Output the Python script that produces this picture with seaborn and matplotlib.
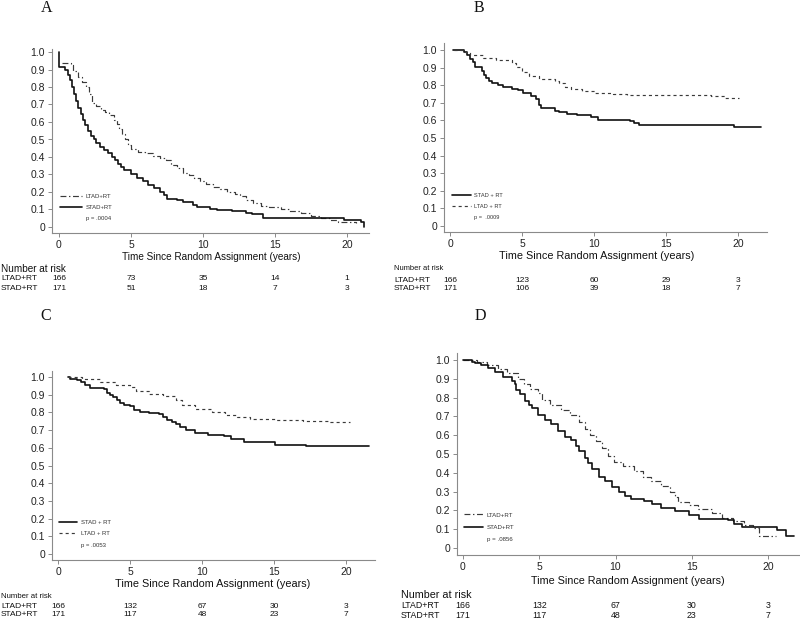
import matplotlib
matplotlib.use("Agg")
import matplotlib.pyplot as plt
import seaborn as sns
from matplotlib.lines import Line2D
from matplotlib.transforms import blended_transform_factory

# ---------------- data ----------------
x_ticks = [0, 5, 10, 15, 20]
y_ticks = [0, 0.1, 0.2, 0.3, 0.4, 0.5, 0.6, 0.7, 0.8, 0.9, 1.0]
y_tick_labels = ["0", "0.1", "0.2", "0.3", "0.4", "0.5", "0.6", "0.7", "0.8", "0.9", "1.0"]
risk_times = [0, 5, 10, 15, 20]

# Panel A
A_stad_t = [0, 0.03, 0.45, 0.6, 0.75, 0.9, 1.05, 1.2, 1.35, 1.5, 1.65, 1.8, 2.0, 2.2, 2.4, 2.6, 2.85,
            3.1, 3.4, 3.7, 3.9, 4.1, 4.3, 4.5, 5.0, 5.4, 5.8, 6.2, 6.6, 7.0, 7.3, 7.5, 8.2, 8.6, 9.3,
            9.6, 10.5, 11.0, 12.0, 13.0, 13.4, 14.2, 19.8, 21.0, 21.2]
A_stad_s = [1.0, 0.912, 0.90, 0.87, 0.84, 0.80, 0.76, 0.72, 0.68, 0.645, 0.61, 0.58, 0.55, 0.52, 0.50, 0.48,
            0.455, 0.44, 0.42, 0.40, 0.38, 0.36, 0.34, 0.325, 0.305, 0.28, 0.26, 0.24, 0.225, 0.20, 0.18,
            0.162, 0.152, 0.143, 0.125, 0.112, 0.105, 0.095, 0.09, 0.082, 0.075, 0.053, 0.042, 0.029, 0.0]
A_ltad_t = [0.2, 0.8, 1.0, 1.3, 1.6, 1.9, 2.1, 2.3, 2.6, 2.9, 3.2, 3.5, 3.8, 4.0, 4.2, 4.4, 4.6, 4.8, 5.0,
            5.5, 6.0, 6.5, 7.0, 7.4, 7.8, 8.2, 8.6, 9.0, 9.4, 9.8, 10.2, 10.7, 11.2, 11.7, 12.2, 12.6,
            13.0, 13.5, 14.0, 14.6, 15.4, 16.0, 16.8, 17.5, 18.2, 18.8, 19.4, 20.6]
A_ltad_s = [0.94, 0.925, 0.89, 0.86, 0.83, 0.80, 0.76, 0.71, 0.69, 0.67, 0.655, 0.64, 0.61, 0.59, 0.56,
            0.53, 0.50, 0.47, 0.445, 0.43, 0.42, 0.405, 0.395, 0.38, 0.355, 0.335, 0.31, 0.295, 0.28,
            0.265, 0.245, 0.23, 0.215, 0.20, 0.19, 0.175, 0.155, 0.135, 0.12, 0.115, 0.10, 0.09, 0.08,
            0.065, 0.05, 0.04, 0.03, 0.025]
A_risk_ltad = [166, 73, 35, 14, 1]
A_risk_stad = [171, 51, 18, 7, 3]

# Panel B
B_stad_t = [0.2, 1.0, 1.2, 1.4, 1.6, 1.75, 2.2, 2.35, 2.5, 2.7, 2.9, 3.3, 3.7, 4.3, 4.7, 5.1, 5.6, 6.0,
            6.2, 6.35, 7.3, 7.6, 8.1, 8.8, 9.8, 10.3, 12.5, 12.8, 13.1, 19.7, 21.6]
B_stad_s = [1.0, 0.99, 0.97, 0.95, 0.93, 0.905, 0.88, 0.86, 0.84, 0.825, 0.815, 0.80, 0.79, 0.78, 0.77,
            0.755, 0.74, 0.72, 0.69, 0.668, 0.655, 0.645, 0.635, 0.628, 0.617, 0.602, 0.595, 0.585,
            0.574, 0.562, 0.562]
B_ltad_t = [0.25, 0.9, 1.4, 2.3, 3.2, 4.3, 4.6, 5.0, 5.5, 6.2, 7.3, 7.6, 8.0, 8.4, 9.2, 10.1, 11.3, 12.3,
            18.1, 19.1, 20.1]
B_ltad_s = [1.0, 0.987, 0.97, 0.956, 0.943, 0.924, 0.905, 0.875, 0.85, 0.838, 0.825, 0.81, 0.79, 0.778,
            0.768, 0.758, 0.75, 0.746, 0.737, 0.729, 0.729]
B_risk_ltad = [166, 123, 60, 29, 3]
B_risk_stad = [171, 106, 39, 18, 7]

# Panel C
C_stad_t = [0.7, 0.8, 1.3, 1.6, 1.9, 2.2, 3.2, 3.4, 3.6, 3.85, 4.1, 4.3, 4.6, 5.0, 5.3, 5.7, 6.3, 7.0,
            7.3, 7.6, 7.9, 8.2, 8.5, 8.9, 9.5, 10.4, 11.5, 12.0, 12.9, 15.1, 17.2, 21.6]
C_stad_s = [1.0, 0.99, 0.985, 0.97, 0.952, 0.94, 0.93, 0.91, 0.90, 0.885, 0.87, 0.855, 0.84, 0.835,
            0.815, 0.805, 0.795, 0.79, 0.775, 0.757, 0.745, 0.732, 0.72, 0.70, 0.682, 0.672, 0.665,
            0.648, 0.635, 0.618, 0.612, 0.612]
C_ltad_t = [0.7, 1.7, 2.9, 4.0, 5.0, 5.4, 6.3, 7.3, 8.2, 8.6, 9.5, 10.7, 11.6, 12.4, 13.3, 15.1, 17.0,
            18.9, 20.3]
C_ltad_s = [1.0, 0.99, 0.97, 0.957, 0.945, 0.92, 0.905, 0.893, 0.87, 0.84, 0.818, 0.80, 0.785, 0.772,
            0.763, 0.757, 0.753, 0.743, 0.743]
C_risk_ltad = [166, 132, 67, 30, 3]
C_risk_stad = [171, 117, 48, 23, 7]

# Panel D
D_stad_t = [0, 0.57, 0.8, 1.2, 1.66, 2.1, 2.6, 3.2, 3.4, 3.5, 3.75, 4.05, 4.3, 4.5, 4.9, 5.4, 5.8, 6.25,
            6.7, 7.1, 7.4, 7.6, 8.0, 8.2, 8.45, 8.9, 9.3, 9.75, 10.2, 10.6, 11.0, 11.9, 12.4, 13.0, 13.9,
            14.8, 15.5, 17.4, 17.8, 18.3, 20.6, 21.2, 21.7]
D_stad_s = [1.0, 0.99, 0.985, 0.973, 0.956, 0.934, 0.91, 0.888, 0.87, 0.84, 0.82, 0.78, 0.76, 0.743,
            0.71, 0.68, 0.66, 0.62, 0.592, 0.575, 0.54, 0.515, 0.48, 0.45, 0.42, 0.38, 0.355, 0.327,
            0.30, 0.275, 0.262, 0.252, 0.235, 0.212, 0.195, 0.178, 0.152, 0.148, 0.13, 0.113, 0.097,
            0.063, 0.063]
D_ltad_t = [0, 0.9, 1.6, 2.3, 2.9, 3.6, 4.0, 4.4, 4.9, 5.2, 5.7, 6.4, 7.0, 7.6, 8.0, 8.3, 8.7, 9.1, 9.5,
            9.9, 10.5, 11.2, 11.8, 12.3, 13.0, 13.6, 13.9, 14.1, 14.8, 15.4, 16.3, 17.0, 17.7, 18.4,
            19.0, 19.4, 20.5]
D_ltad_s = [1.0, 0.99, 0.973, 0.952, 0.93, 0.90, 0.87, 0.845, 0.823, 0.785, 0.762, 0.735, 0.705, 0.67,
            0.635, 0.60, 0.57, 0.53, 0.49, 0.455, 0.435, 0.41, 0.38, 0.355, 0.33, 0.30, 0.27, 0.245,
            0.23, 0.205, 0.185, 0.16, 0.142, 0.125, 0.105, 0.065, 0.065]
D_risk_ltad = [166, 132, 67, 30, 3]
D_risk_stad = [171, 117, 48, 23, 7]

# ---------------- style ----------------
sns.set_theme(style="ticks")
plt.rcParams["font.family"] = ["Liberation Sans", "DejaVu Sans"]

W, H = 800, 620
fig = plt.figure(figsize=(W / 100, H / 100), dpi=100)
fig.patch.set_facecolor("white")

SOLID_C = "#111111"
DASH_C = "#3a3a3a"
AXIS_C = "#8a8a8a"
DASHDOT = (0, (5, 2.2, 1.2, 2.2))
SHORTDASH = (0, (2.6, 2.6))

panels = [
    dict(letter="A", letter_xy=(47, 8), box=(52, 49, 369, 233), x0=59, x20=347, y1=52, y0=227,
         curves=[(A_ltad_t, A_ltad_s, "LTAD+RT", "dash", DASHDOT), (A_stad_t, A_stad_s, "STAD+RT", "solid", "-")],
         pval="p = .0004", leg=(60, 197, 13, 22, 4.3),
         xlabel=(211, 257, 7.2), header=(1, 269, 7.2), rows=(1, 279, 289, 6.0),
         risk_l=A_risk_ltad, risk_s=A_risk_stad),
    dict(letter="B", letter_xy=(479, 8), box=(444, 43, 767, 232), x0=450, x20=738, y1=50, y0=226,
         curves=[(B_stad_t, B_stad_s, "STAD + RT", "solid", "-"), (B_ltad_t, B_ltad_s, "LTAD + RT", "dash", SHORTDASH)],
         pval="p =  .0009", leg=(452, 196, 13, 19, 4.1),
         xlabel=(597, 256, 7.8), header=(394, 268, 5.4), rows=(394, 280, 289, 6.0),
         risk_l=B_risk_ltad, risk_s=B_risk_stad),
    dict(letter="C", letter_xy=(46, 316), box=(52, 371, 375, 560), x0=58, x20=346, y1=377, y0=554,
         curves=[(C_stad_t, C_stad_s, "STAD + RT", "solid", "-"), (C_ltad_t, C_ltad_s, "LTAD + RT", "dash", SHORTDASH)],
         pval="p = .0053", leg=(59, 523, 13.5, 18, 4.3),
         xlabel=(213, 584, 7.8), header=(1, 596, 5.6), rows=(1, 607, 615, 6.0),
         risk_l=C_risk_ltad, risk_s=C_risk_stad),
    dict(letter="D", letter_xy=(480, 316), box=(457, 353, 799, 555), x0=463, x20=768, y1=360, y0=548,
         curves=[(D_ltad_t, D_ltad_s, "LTAD+RT", "dash", DASHDOT), (D_stad_t, D_stad_s, "STAD+RT", "solid", "-")],
         pval="p = .0856", leg=(464, 516, 14, 19, 4.4),
         xlabel=(628, 581, 7.75), header=(401, 595, 7.75), rows=(401, 606, 615, 6.3),
         risk_l=D_risk_ltad, risk_s=D_risk_stad),
]


def fy(y):
    return 1 - y / H


for p in panels:
    l, t, r, b = p["box"]
    ax = fig.add_axes([l / W, 1 - b / H, (r - l) / W, (b - t) / H])
    kx = 20.0 / (p["x20"] - p["x0"])
    ky = 1.0 / (p["y0"] - p["y1"])
    ax.set_xlim(-(p["x0"] - l) * kx, 20 + (r - p["x20"]) * kx)
    ax.set_ylim(-(b - p["y0"]) * ky, 1 + (p["y1"] - t) * ky)

    handles, labels = [], []
    for tt, ss, lab, kind, ls in p["curves"]:
        sns.lineplot(x=tt, y=ss, ax=ax, drawstyle="steps-post", estimator=None, sort=False,
                     color=SOLID_C if kind == "solid" else DASH_C,
                     linewidth=1.2 if kind == "solid" else 0.85, linestyle=ls)
        handles.append(ax.lines[-1])
        labels.append(lab)
    handles.append(Line2D([], [], linestyle="none"))
    labels.append(p["pval"])

    for side in ("top", "right"):
        ax.spines[side].set_visible(False)
    for side in ("left", "bottom"):
        ax.spines[side].set_color(AXIS_C)
        ax.spines[side].set_linewidth(0.8)
    ax.set_xticks(x_ticks)
    ax.set_xticklabels([str(v) for v in x_ticks])
    ax.set_yticks(y_ticks)
    ax.set_yticklabels(y_tick_labels)
    ax.tick_params(axis="both", length=3, width=0.7, color=AXIS_C, labelsize=7.5,
                   labelcolor="#222222", pad=2, direction="out")
    ax.set_xlabel("")
    ax.set_ylabel("")
    ax.set_facecolor("white")

    # legend
    lx, ly, pitch, hlen, fs = p["leg"]
    fs_px = fs / 0.72
    text_h = 1.17 * fs
    lspace = (pitch * 0.72 - text_h) / fs
    ax.legend(handles=handles, labels=labels, loc="upper left",
              bbox_to_anchor=(lx / W, fy(ly - 0.6 * fs_px)), bbox_transform=fig.transFigure,
              frameon=False, fontsize=fs, handlelength=hlen * 0.72 / fs, handletextpad=0.6,
              labelspacing=lspace, borderpad=0, borderaxespad=0, labelcolor="#333333")

    # x label
    xl_x, xl_y, xl_fs = p["xlabel"]
    fig.text(xl_x / W, fy(xl_y), "Time Since Random Assignment (years)", ha="center", va="center",
             fontsize=xl_fs, color="#111111")

    # panel letter
    fig.text(p["letter_xy"][0] / W, fy(p["letter_xy"][1]), p["letter"], ha="center", va="center",
             fontsize=11.5, family=["Liberation Serif", "DejaVu Serif"], color="#111111")

    # number at risk table
    hx, hy, hfs = p["header"]
    fig.text(hx / W, fy(hy), "Number at risk", ha="left", va="center", fontsize=hfs, color="#111111")
    rx, ry1, ry2, rfs = p["rows"]
    fig.text(rx / W, fy(ry1), "LTAD+RT", ha="left", va="center", fontsize=rfs, color="#111111")
    fig.text(rx / W, fy(ry2), "STAD+RT", ha="left", va="center", fontsize=rfs, color="#111111")
    trans = blended_transform_factory(ax.transData, fig.transFigure)
    for tm, n1, n2 in zip(risk_times, p["risk_l"], p["risk_s"]):
        ax.text(tm, fy(ry1), str(n1), transform=trans, ha="center", va="center", fontsize=rfs,
                color="#111111", clip_on=False)
        ax.text(tm, fy(ry2), str(n2), transform=trans, ha="center", va="center", fontsize=rfs,
                color="#111111", clip_on=False)

fig.savefig("out.png", dpi=100, facecolor="white")
